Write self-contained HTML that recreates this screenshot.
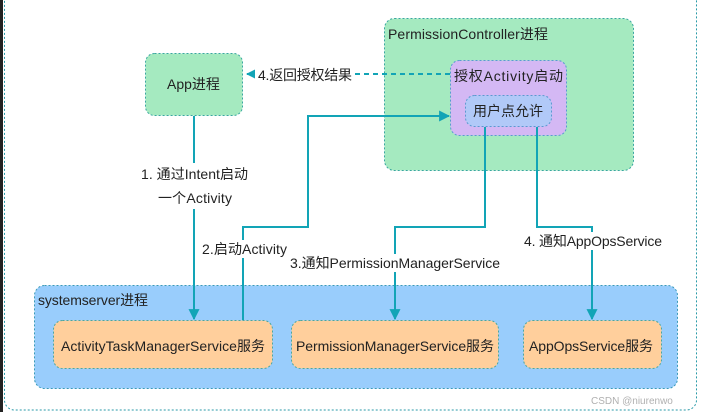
<!DOCTYPE html>
<html><head><meta charset="utf-8"><style>
html,body{margin:0;padding:0;background:#fff;}
svg{display:block;}
text{font-family:"Liberation Sans","Noto Sans CJK SC",sans-serif;font-size:14px;fill:#222;}
</style></head><body>
<svg width="703" height="412" viewBox="0 0 703 412" xmlns="http://www.w3.org/2000/svg">
<defs>
<marker id="a" viewBox="0 0 10 10" refX="9" refY="5" markerWidth="5.5" markerHeight="5.5" orient="auto"><path d="M0,0 L10,5 L0,10 z" fill="#12a4b6"/></marker>
</defs>
<rect x="0" y="0" width="3" height="412" fill="#222"/>
<rect x="4.5" y="-10" width="692" height="420" rx="10" fill="none" stroke="#2a9aa8" stroke-dasharray="2,2" stroke-width="1"/>
<rect x="384.5" y="18.5" width="249" height="152" rx="10" fill="#a5eac0" stroke="#3aa7a0" stroke-dasharray="2,2"/>
<text x="388" y="39" textLength="160">PermissionController进程</text>
<rect x="450.5" y="60.5" width="116" height="75" rx="9" fill="#d4b8f4" stroke="#5a9ad0" stroke-dasharray="2,2"/>
<text x="454" y="81" textLength="109">授权Activity启动</text>
<rect x="465.5" y="95.5" width="86" height="31" rx="9" fill="#b1c9f8" stroke="#5a9ad0" stroke-dasharray="2,2"/>
<text x="473" y="116">用户点允许</text>
<rect x="145.5" y="53.5" width="97" height="62" rx="9" fill="#a5eac0" stroke="#3aa7a0" stroke-dasharray="2,2"/>
<text x="167" y="89">App进程</text>
<rect x="34.5" y="285.5" width="643" height="103" rx="10" fill="#99cdfc" stroke="#3a9ab8" stroke-dasharray="2,2"/>
<text x="38" y="305" textLength="110">systemserver进程</text>
<rect x="53.5" y="320.5" width="219" height="48" rx="9" fill="#ffcf9c" stroke="#4aa7a0" stroke-dasharray="2,2"/>
<text x="61" y="351" textLength="204">ActivityTaskManagerService服务</text>
<rect x="291.5" y="320.5" width="207" height="48" rx="9" fill="#ffcf9c" stroke="#4aa7a0" stroke-dasharray="2,2"/>
<text x="296" y="351" textLength="198">PermissionManagerService服务</text>
<rect x="523.5" y="320.5" width="138" height="48" rx="9" fill="#ffcf9c" stroke="#4aa7a0" stroke-dasharray="2,2"/>
<text x="529" y="351" textLength="124">AppOpsService服务</text>
<g fill="none" stroke="#12a4b6" stroke-width="2">
<line x1="450" y1="74" x2="247" y2="74" stroke-dasharray="5,4" marker-end="url(#a)"/>
<polyline points="194,116 194,319" marker-end="url(#a)"/>
<polyline points="243,320 243,227 308,227 308,116 449,116" marker-end="url(#a)"/>
<polyline points="485,127 485,227 395,227 395,319" marker-end="url(#a)"/>
<polyline points="537,127 537,227 592,227 592,319" marker-end="url(#a)"/>
</g>
<rect x="255" y="65" width="98" height="17" fill="#fff"/>
<text x="258" y="80" textLength="94">4.返回授权结果</text>
<rect x="138" y="163" width="112" height="46" fill="#fff"/>
<text x="141" y="179" textLength="107">1. 通过Intent启动</text>
<text x="158" y="203" textLength="74">一个Activity</text>
<rect x="200" y="240" width="90" height="18" fill="#fff"/>
<text x="202" y="254" textLength="85">2.启动Activity</text>
<rect x="288" y="254" width="214" height="18" fill="#fff"/>
<text x="290" y="268" textLength="210">3.通知PermissionManagerService</text>
<rect x="520" y="232" width="144" height="18" fill="#fff"/>
<text x="524" y="246" textLength="138">4. 通知AppOpsService</text>
<text x="591" y="404" style="font-size:10px;fill:#b0b0b0">CSDN @niurenwo</text>
</svg>
</body></html>
